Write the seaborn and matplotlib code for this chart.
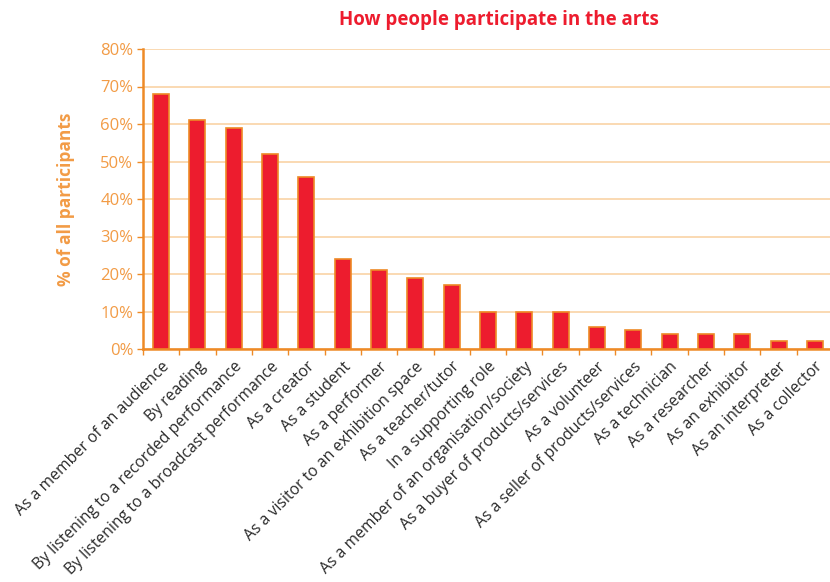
import matplotlib
matplotlib.use("Agg")
import matplotlib.pyplot as plt
import seaborn as sns
import pandas as pd
from matplotlib.ticker import FixedLocator, PercentFormatter

categories = [
    "As a member of an audience",
    "By reading",
    "By listening to a recorded performance",
    "By listening to a broadcast performance",
    "As a creator",
    "As a student",
    "As a performer",
    "As a visitor to an exhibition space",
    "As a teacher/tutor",
    "In a supporting role",
    "As a member of an organisation/society",
    "As a buyer of products/services",
    "As a volunteer",
    "As a seller of products/services",
    "As a technician",
    "As a researcher",
    "As an exhibitor",
    "As an interpreter",
    "As a collector",
]
shares = [68, 61, 59, 52, 46, 24, 21, 19, 17, 10, 10, 10, 6, 5, 4, 4, 4, 2.2, 2.2]
y_ticks = [0, 10, 20, 30, 40, 50, 60, 70, 80]

RED = "#ED1C2E"
ORANGE = "#EE8A26"
ORANGE_TXT = "#F29B45"
GRID = "#FAD3A6"

sns.set_theme(style="white")
plt.rcParams["font.family"] = ["Open Sans", "DejaVu Sans"]

df = pd.DataFrame({"category": categories, "share": shares})

fig = plt.figure(figsize=(8.3, 5.82), dpi=100)
ax = fig.add_axes([143 / 830, 1 - 349 / 582, 690 / 830, 300 / 582])

sns.barplot(data=df, x="category", y="share", color=RED, width=0.44,
            edgecolor=ORANGE, linewidth=1.2, saturation=1, ax=ax, zorder=3)

ax.set_ylim(0, 80)
ax.set_xlim(-0.5, len(categories) - 0.5)
ax.yaxis.set_major_locator(FixedLocator(y_ticks))
ax.yaxis.set_major_formatter(PercentFormatter(decimals=0))
ax.grid(axis="y", color=GRID, linewidth=1.2, zorder=0)
ax.set_axisbelow(True)

for side in ("top", "right"):
    ax.spines[side].set_visible(False)
for side in ("left", "bottom"):
    ax.spines[side].set_color(ORANGE)
    ax.spines[side].set_linewidth(1.8)

ax.tick_params(axis="y", colors=ORANGE, labelcolor=ORANGE_TXT, labelsize=12,
               length=4, width=1, direction="out", left=True, pad=3)
ax.tick_params(axis="x", which="major", length=0, labelsize=11.3,
               labelcolor="#2a2a2a", pad=7)
ax.set_xticks(range(len(categories)))
ax.set_xticklabels(categories, rotation=45, ha="right", rotation_mode="anchor")
ax.xaxis.set_minor_locator(FixedLocator([i - 0.5 for i in range(len(categories) + 1)]))
ax.tick_params(axis="x", which="minor", bottom=True, length=4, width=1,
               color=ORANGE, direction="out")

ax.set_xlabel("")
ax.set_ylabel("% of all participants", color=ORANGE_TXT, fontsize=12.5,
              fontweight="bold", labelpad=18)

fig.text(499 / 830, 1 - 20 / 582, "How people participate in the arts",
         color=RED, fontsize=13.5, fontweight="bold", ha="center", va="center")

fig.savefig("out.png", dpi=100)
